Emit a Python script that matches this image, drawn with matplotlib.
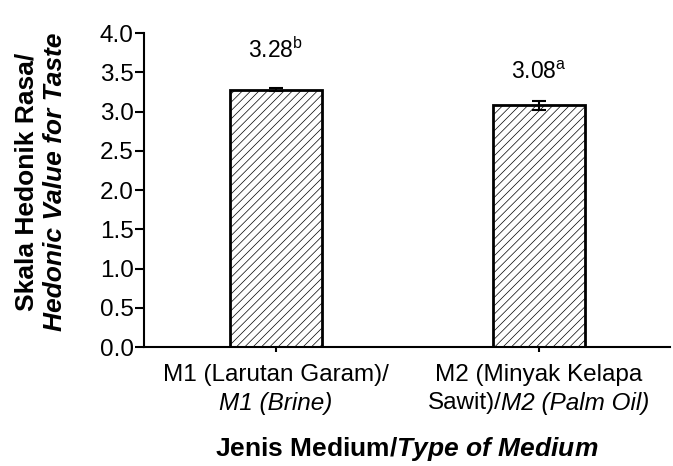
import numpy as np
import matplotlib.pyplot as plt

plt.rcParams['font.family'] = 'Liberation Sans'
plt.rcParams['mathtext.fontset'] = 'custom'
plt.rcParams['mathtext.rm'] = 'Liberation Sans'
plt.rcParams['mathtext.it'] = 'Liberation Sans:italic'
plt.rcParams['mathtext.bf'] = 'Liberation Sans:bold'
plt.rcParams['mathtext.bfit'] = 'Liberation Sans:bold:italic'
plt.rcParams['hatch.color'] = '#a0a0a0'
plt.rcParams['hatch.linewidth'] = 0.5

# tick label lines: (first line, second line regular part, second line italic part)
line1 = ["M1 (Larutan Garam)/", "M2 (Minyak Kelapa"]
line2_reg = ["", "Sawit)/"]
line2_it = ["M1 (Brine)", "M2 (Palm Oil)"]
values = [3.28, 3.08]
errors = [0.015, 0.06]
letters = ["b", "a"]
label_y = [3.78, 3.50]
fs_tick = 17.5
fs_lab = 19
fs_ann = 16.5

fig = plt.figure(figsize=(6.73, 4.66), dpi=100)
ax = fig.add_axes([0.214, 0.255, 0.782, 0.674])

x = np.arange(len(values))
ax.bar(x, values, width=0.35, color='white', edgecolor='black', linewidth=2,
       hatch='////', yerr=errors, capsize=5,
       error_kw=dict(elinewidth=1.5, capthick=1.5, ecolor='black'))

for xi, v, l, ly in zip(x, values, letters, label_y):
    ax.text(xi, ly, f"{v:.2f}$^{{\\mathrm{{{l}}}}}$", ha='center', va='center', fontsize=fs_ann)

ax.set_xlim(-0.5, 1.5)
ax.set_ylim(0, 4.0)
ax.set_yticks(np.arange(0, 4.01, 0.5))
ax.set_yticklabels([f"{t:.1f}" for t in np.arange(0, 4.01, 0.5)])
ax.set_xticks(x)
ax.set_xticklabels([])
ax.tick_params(labelsize=fs_tick, width=1.5, direction='out')
ax.tick_params(axis='y', length=6.5, pad=1)
ax.tick_params(axis='x', length=3.5)
ax.spines['top'].set_visible(False)
ax.spines['right'].set_visible(False)
ax.spines['left'].set_linewidth(1.5)
ax.spines['bottom'].set_linewidth(1.5)

# custom two-line tick labels with mixed styles
trans = ax.get_xaxis_transform()
fig.canvas.draw()
r = fig.canvas.get_renderer()
for xi, a, b, c in zip(x, line1, line2_reg, line2_it):
    ax.text(xi, -0.088, a, transform=trans, ha='center', va='center', fontsize=fs_tick)
    tb = ax.text(0, 0, b, fontsize=fs_tick)
    tc = ax.text(0, 0, c, fontsize=fs_tick, style='italic')
    wb = tb.get_window_extent(r).width if b else 0
    wc = tc.get_window_extent(r).width
    tb.remove(); tc.remove()
    xpix = ax.transData.transform((xi, 0))[0]
    split = xpix - (wb + wc) / 2 + wb
    ybase = ax.transAxes.transform((0, -0.178))[1]
    if b:
        fig.text(split / fig.bbox.width, ybase / fig.bbox.height, b, ha='right', va='center', fontsize=fs_tick)
    fig.text(split / fig.bbox.width, ybase / fig.bbox.height, c, ha='left', va='center', fontsize=fs_tick, style='italic')

fig.text(0.604, 0.036, "$\\bf{Jenis\\ Medium/}$$\\mathbfit{Type\\ of\\ Medium}$", ha='center', va='center', fontsize=fs_lab)
fig.text(0.040, 0.609, "Skala Hedonik Rasa/", rotation=90, ha='center', va='center', fontsize=fs_lab, weight='bold')
fig.text(0.082, 0.609, "Hedonic Value for Taste", rotation=90, ha='center', va='center', fontsize=fs_lab,
         weight='bold', style='italic')

fig.savefig("out.png", dpi=100)
